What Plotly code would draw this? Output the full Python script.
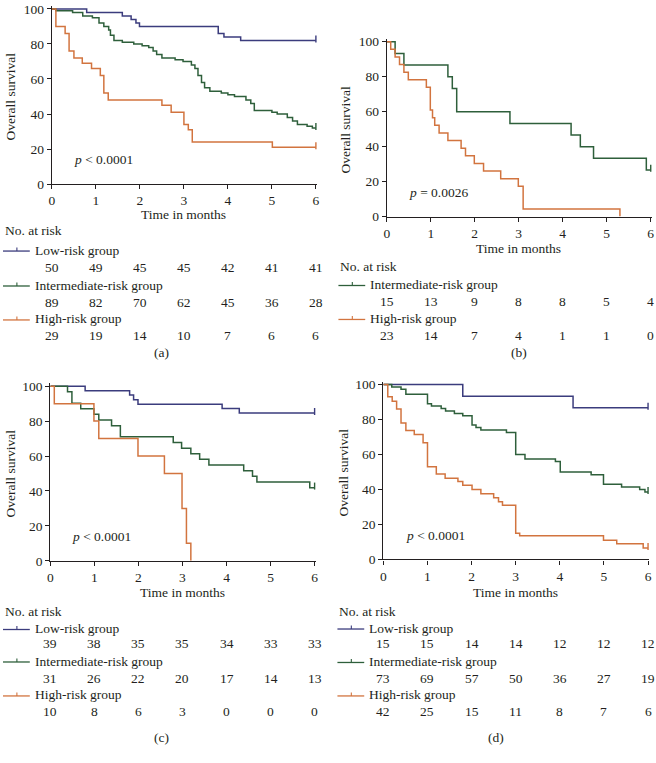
import plotly.graph_objects as go

W, H = 656, 763
FONT = "Liberation Serif"
INK = "#231f20"
BLUE, GREEN, ORANGE = "#3b3c7d", "#2e5f3b", "#d2743f"

MONTHS = [0, 1, 2, 3, 4, 5, 6]

# panel (a)
a_low_t = [0, 0.79, 1.6, 1.8, 1.91, 1.99, 3.78, 3.91, 4.29, 6]
a_low_s = [100, 98, 96, 94, 92, 90, 86, 84, 82, 82]
a_int_t = [0, 0.09, 0.47, 0.7, 0.92, 1.07, 1.18, 1.29, 1.33, 1.41, 1.6, 1.86, 2.05, 2.2, 2.3, 2.38,
           2.5, 2.8, 2.98, 3.17, 3.25, 3.32, 3.4, 3.47, 3.59, 3.85, 4.0, 4.15, 4.41, 4.52, 4.6, 5.0,
           5.12, 5.35, 5.47, 5.58, 5.8, 5.92, 6]
a_int_s = [100, 99, 98, 96, 95, 92, 90, 88, 85, 82, 81, 80, 79, 78, 76, 74, 72, 71, 70, 68, 66, 62,
           58, 55, 53, 52, 51, 50, 48, 46, 42, 41, 40, 38, 36, 34, 33, 32, 32]
a_high_t = [0, 0.09, 0.3, 0.39, 0.5, 0.69, 0.9, 1.1, 1.18, 1.28, 2.5, 2.71, 3.0, 3.1, 3.19, 5.01, 6]
a_high_s = [100, 90, 86, 76, 72, 69, 66, 62, 52, 48, 45, 41, 34, 31, 24, 21, 21]
a_risk_low = [50, 49, 45, 45, 42, 41, 41]
a_risk_int = [89, 82, 70, 62, 45, 36, 28]
a_risk_high = [29, 19, 14, 10, 7, 6, 6]

# panel (b)
b_int_t = [0, 0.19, 0.39, 1.39, 1.49, 1.59, 2.8, 4.19, 4.4, 4.7, 5.9, 6]
b_int_s = [100, 93.3, 86.7, 80, 73.3, 60, 53.3, 46.7, 40, 33.3, 26.7, 26.7]
b_high_t = [0, 0.09, 0.19, 0.29, 0.39, 0.49, 0.9, 0.99, 1.04, 1.09, 1.19, 1.39, 1.69, 1.79, 1.99,
            2.2, 2.59, 2.99, 3.1, 5.3]
b_high_s = [100, 95.7, 91.3, 87, 82.6, 78.3, 73.9, 60.9, 56.5, 52.2, 47.8, 43.5, 39.1, 34.8, 30.4,
            26.1, 21.7, 17.4, 4.3, 0]
b_risk_int = [15, 13, 9, 8, 8, 5, 4]
b_risk_high = [23, 14, 7, 4, 1, 1, 0]

# panel (c)
c_low_t = [0, 0.79, 1.8, 1.89, 1.99, 3.9, 4.29, 6]
c_low_s = [100, 97.4, 94.9, 92.3, 89.7, 87.2, 84.6, 84.6]
c_int_t = [0, 0.39, 0.49, 0.69, 0.99, 1.1, 1.39, 1.59, 2.79, 2.98, 3.19, 3.39, 3.6, 4.39, 4.59,
           4.69, 5.89, 6]
c_int_s = [100, 96.8, 90.3, 87.1, 83.9, 80.6, 77.4, 71, 67.7, 64.5, 61.3, 58.1, 54.8, 51.6, 48.4,
           45.2, 41.9, 41.9]
c_high_t = [0, 0.09, 0.99, 1.1, 1.99, 2.59, 2.99, 3.09, 3.19]
c_high_s = [100, 90, 80, 70, 60, 50, 30, 10, 0]
c_risk_low = [39, 38, 35, 35, 34, 33, 33]
c_risk_int = [31, 26, 22, 20, 17, 14, 13]
c_risk_high = [10, 8, 6, 3, 0, 0, 0]

# panel (d)
d_low_t = [0, 1.8, 4.3, 6]
d_low_s = [100, 93.3, 86.7, 86.7]
d_int_t = [0, 0.19, 0.4, 0.51, 1.0, 1.09, 1.31, 1.41, 1.61, 1.8, 2.01, 2.1, 2.21, 2.79, 3.0, 3.21,
           3.9, 4.01, 4.71, 4.99, 5.4, 5.81, 5.93, 6]
d_int_s = [100, 98.6, 97.3, 94.5, 89, 87.7, 86.3, 84.9, 83.5, 82.2, 76.9, 75.5, 74, 72.6, 60, 57.5,
           56, 50, 48.5, 43, 41.5, 40, 38.5, 38.5]
d_high_t = [0, 0.1, 0.2, 0.3, 0.4, 0.51, 0.7, 0.9, 1.0, 1.2, 1.4, 1.69, 1.8, 2.01, 2.21, 2.5, 2.61,
            2.7, 3.0, 3.09, 4.99, 5.29, 5.89, 6]
d_high_s = [100, 93, 90.5, 86, 78, 73.8, 71.5, 66.7, 53, 48.9, 46.5, 44.6, 42.5, 40, 37.6, 35.3, 33,
            31, 15, 13.5, 11, 9, 6.5, 6.5]
d_risk_low = [15, 15, 14, 14, 12, 12, 12]
d_risk_int = [73, 69, 57, 50, 36, 27, 19]
d_risk_high = [42, 25, 15, 11, 8, 7, 6]

LABELS = {"low": "Low-risk group", "int": "Intermediate-risk group", "high": "High-risk group"}
COLORS = {"low": BLUE, "int": GREEN, "high": ORANGE}

panels = [
    dict(tag="(a)", p="< 0.0001", x0=49.3, x6=315.3, y0=183, y100=5, ytitle_x=8,
         curves=[("low", a_low_t, a_low_s, True), ("int", a_int_t, a_int_s, True),
                 ("high", a_high_t, a_high_s, True)],
         risk=[("low", a_risk_low), ("int", a_risk_int), ("high", a_risk_high)],
         px=70, py=158, time_y=214, nar_y=230, rows_y=[250, 268, 285.5, 303, 320, 337],
         leg_x=0, tag_x=160, tag_y=354),
    dict(tag="(b)", p="= 0.0026", x0=386.7, x6=652.7, y0=216, y100=38.3, ytitle_x=345,
         curves=[("int", b_int_t, b_int_s, True), ("high", b_high_t, b_high_s, False)],
         risk=[("int", b_risk_int), ("high", b_risk_high)],
         px=407, py=192, time_y=248, nar_y=267, rows_y=[285, 302.7, 319.5, 336.5],
         leg_x=338, tag_x=520, tag_y=354),
    dict(tag="(c)", p="< 0.0001", x0=47.7, x6=314, y0=565.7, y100=388.3, ytitle_x=8,
         curves=[("low", c_low_t, c_low_s, True), ("int", c_int_t, c_int_s, True),
                 ("high", c_high_t, c_high_s, False)],
         risk=[("low", c_risk_low), ("int", c_risk_int), ("high", c_risk_high)],
         px=68, py=541, time_y=598, nar_y=616.7, rows_y=[634.5, 650, 667.5, 685, 702, 718.5],
         leg_x=0, tag_x=160, tag_y=745),
    dict(tag="(d)", p="< 0.0001", x0=383.3, x6=650, y0=564.3, y100=386.7, ytitle_x=343,
         curves=[("low", d_low_t, d_low_s, True), ("int", d_int_t, d_int_s, True),
                 ("high", d_high_t, d_high_s, True)],
         risk=[("low", d_risk_low), ("int", d_risk_int), ("high", d_risk_high)],
         px=404, py=540, time_y=598, nar_y=616.7, rows_y=[634, 650, 668, 685, 702, 718.5],
         leg_x=337, tag_x=497, tag_y=745),
]

XMAX, YMAX = 6.03, 101.6


def fy(py):
    return 1 - py / H


fig = go.Figure()
annotations, shapes = [], []
text_font = dict(family=FONT, size=13.5, color=INK)

for i, pn in enumerate(panels, start=1):
    xa, ya = f"x{i if i > 1 else ''}", f"y{i if i > 1 else ''}"
    xk, yk = f"xaxis{i if i > 1 else ''}", f"yaxis{i if i > 1 else ''}"
    pxu = (pn["x6"] - pn["x0"]) / 6
    pyu = (pn["y0"] - pn["y100"]) / 100
    axis_style = dict(showline=True, linecolor=INK, linewidth=1.3, ticks="outside", ticklen=4,
                      tickwidth=1.2, tickcolor=INK, showgrid=False, zeroline=False,
                      tickfont=dict(family=FONT, size=13.5, color=INK), fixedrange=True)
    fig.update_layout(**{
        xk: dict(domain=[pn["x0"] / W, min(1, (pn["x0"] + XMAX * pxu) / W)], range=[0, XMAX],
                 tickvals=MONTHS, anchor=ya, **axis_style),
        yk: dict(domain=[fy(pn["y0"]), min(1, fy(pn["y0"] - YMAX * pyu))], range=[0, YMAX],
                 tickvals=[0, 20, 40, 60, 80, 100], anchor=xa, **axis_style),
    })

    for key, t, s, tick_end in pn["curves"]:
        fig.add_trace(go.Scatter(x=t, y=s, mode="lines", line=dict(color=COLORS[key], width=1.5, shape="hv"),
                                 xaxis=xa, yaxis=ya, showlegend=False, hoverinfo="skip"))
        if tick_end:
            fig.add_trace(go.Scatter(x=[t[-1]], y=[s[-1] + 0.9], mode="markers",
                                     marker=dict(symbol="line-ns", size=5, color=COLORS[key],
                                                 line=dict(color=COLORS[key], width=1.4)),
                                     xaxis=xa, yaxis=ya, showlegend=False, hoverinfo="skip",
                                     cliponaxis=False))

    # y title, p value, x title
    annotations.append(dict(text="Overall survival", textangle=-90, xref="paper", yref="paper",
                            x=pn["ytitle_x"] / W, y=fy((pn["y0"] + pn["y100"]) / 2), showarrow=False,
                            font=text_font, xanchor="center", yanchor="middle"))
    annotations.append(dict(text=f"<i>p</i> {pn['p']}", xref="paper", yref="paper", x=pn["px"] / W,
                            y=fy(pn["py"]), showarrow=False, font=text_font, xanchor="left",
                            yanchor="middle"))
    annotations.append(dict(text="Time in months", xref=xa, yref="paper", x=3, y=fy(pn["time_y"]),
                            showarrow=False, font=text_font, xanchor="center", yanchor="middle"))
    annotations.append(dict(text="No. at risk", xref="paper", yref="paper", x=pn["leg_x"] / W,
                            y=fy(pn["nar_y"]), showarrow=False, font=text_font, xanchor="left",
                            yanchor="middle"))
    annotations.append(dict(text=pn["tag"], xref="paper", yref="paper", x=pn["tag_x"] / W,
                            y=fy(pn["tag_y"]), showarrow=False, font=text_font, xanchor="center",
                            yanchor="middle"))

    for j, (key, counts) in enumerate(pn["risk"]):
        ly, ny = pn["rows_y"][2 * j], pn["rows_y"][2 * j + 1]
        lx = pn["leg_x"]
        shapes.append(dict(type="line", xref="paper", yref="paper", x0=lx / W, x1=(lx + 27) / W,
                           y0=fy(ly + 1), y1=fy(ly + 1), line=dict(color=COLORS[key], width=1.3)))
        shapes.append(dict(type="line", xref="paper", yref="paper", x0=(lx + 14) / W, x1=(lx + 14) / W,
                           y0=fy(ly + 1), y1=fy(ly - 2.5), line=dict(color=COLORS[key], width=1.1)))
        annotations.append(dict(text=LABELS[key], xref="paper", yref="paper", x=(lx + 30) / W,
                                y=fy(ly), showarrow=False, font=text_font, xanchor="left",
                                yanchor="middle"))
        for m, c in zip(MONTHS, counts):
            annotations.append(dict(text=str(c), xref=xa, yref="paper", x=m, y=fy(ny), showarrow=False,
                                    font=text_font, xanchor="center", yanchor="middle"))

fig.update_layout(width=W, height=H, margin=dict(l=0, r=0, t=0, b=0), paper_bgcolor="white",
                  plot_bgcolor="white", annotations=annotations, shapes=shapes,
                  font=dict(family=FONT, color=INK))
fig.write_html("out.html", config={"displayModeBar": False},
               post_script="document.body.style.margin='0';document.body.style.overflow='hidden';")
